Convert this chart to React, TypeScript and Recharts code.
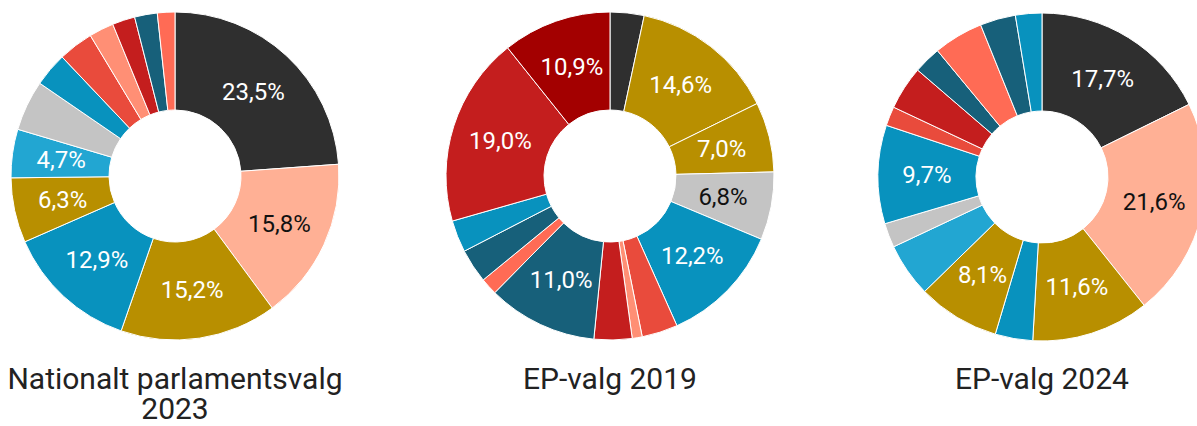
import { PieChart, Pie, Cell } from "recharts";

// colour keys, one per slice
const C: Record<string, string> = {
  black: "#2f2f2f",
  peach: "#ffb095",
  gold: "#b88f00",
  blue: "#0892be",
  sky: "#22a6d2",
  grey: "#c4c4c4",
  vermilion: "#e94b3c",
  salmon: "#ff8f75",
  red: "#c41e1e",
  navy: "#17607a",
  coral: "#ff6b55",
  darkred: "#a30000",
};

const titles = ["Nationalt parlamentsvalg 2023", "EP-valg 2019", "EP-valg 2024"];

// Nationalt parlamentsvalg 2023
const nat2023Values = [23.5, 15.8, 15.2, 12.9, 6.3, 4.7, 4.9, 3.3, 3.4, 2.4, 2.2, 2.2, 1.7];
const nat2023Keys = ["black", "peach", "gold", "blue", "gold", "sky", "grey", "blue", "vermilion", "salmon", "red", "navy", "coral"];
const nat2023Shown = [true, true, true, true, true, true, false, false, false, false, false, false, false];

// EP-valg 2019
const ep2019Values = [3.4, 14.6, 7.0, 6.8, 12.2, 3.6, 1.0, 3.8, 11.0, 1.7, 3.4, 3.2, 19.0, 10.9];
const ep2019Keys = ["black", "gold", "gold", "grey", "blue", "vermilion", "salmon", "red", "navy", "coral", "navy", "blue", "red", "darkred"];
const ep2019Shown = [false, true, true, true, true, false, false, false, true, false, false, false, true, true];

// EP-valg 2024
const ep2024Values = [17.7, 21.6, 11.6, 3.7, 8.1, 5.3, 2.4, 9.7, 1.9, 4.3, 2.7, 4.9, 3.5, 2.6];
const ep2024Keys = ["black", "peach", "gold", "blue", "gold", "sky", "grey", "blue", "vermilion", "red", "navy", "coral", "navy", "blue"];
const ep2024Shown = [true, true, true, false, true, false, false, true, false, false, false, false, false, false];

const charts = [
  { values: nat2023Values, keys: nat2023Keys, shown: nat2023Shown, cx: 175, cy: 176 },
  { values: ep2019Values, keys: ep2019Keys, shown: ep2019Shown, cx: 610, cy: 176 },
  { values: ep2024Values, keys: ep2024Keys, shown: ep2024Shown, cx: 1042, cy: 177 },
];

const RAD = Math.PI / 180;
const FONT = "Roboto, 'Noto Sans', sans-serif";

function makeLabel(values: number[], keys: string[], shown: boolean[]) {
  return (p: any) => {
    const i = p.index;
    if (!shown[i]) return null;
    const r = (p.innerRadius + p.outerRadius) / 2;
    const x = p.cx + r * Math.cos(-p.midAngle * RAD);
    const y = p.cy + r * Math.sin(-p.midAngle * RAD);
    const dark = keys[i] === "peach" || keys[i] === "grey";
    return (
      <text
        key={i}
        x={x}
        y={y}
        fill={dark ? "#111" : "#fff"}
        textAnchor="middle"
        dominantBaseline="central"
        fontSize={24}
        fontFamily={FONT}
      >
        {values[i].toFixed(1).replace(".", ",")}%
      </text>
    );
  };
}

export default function App() {
  return (
    <div style={{ position: "absolute", left: 0, top: 0, width: 1197, height: 426, overflow: "hidden", background: "#fff" }}>
      <PieChart width={1197} height={426} margin={{ top: 0, right: 0, bottom: 0, left: 0 }}>
        {charts.map((c, ci) => (
          <Pie
            key={ci}
            data={c.values.map((v, i) => ({ name: `${ci}-${i}`, value: v }))}
            dataKey="value"
            cx={c.cx}
            cy={c.cy}
            innerRadius={66}
            outerRadius={164}
            startAngle={90}
            endAngle={-270}
            stroke="#fff"
            strokeWidth={1}
            labelLine={false}
            label={makeLabel(c.values, c.keys, c.shown)}
            isAnimationActive={false}
          >
            {c.keys.map((k, i) => (
              <Cell key={i} fill={C[k]} />
            ))}
          </Pie>
        ))}
      </PieChart>
      {titles.map((t, i) => (
        <div
          key={t}
          style={{
            position: "absolute",
            left: charts[i].cx - 180,
            top: 364,
            width: 360,
            textAlign: "center",
            fontFamily: FONT,
            fontSize: 30,
            lineHeight: "30px",
            color: "#222",
          }}
        >
          {t}
        </div>
      ))}
    </div>
  );
}
